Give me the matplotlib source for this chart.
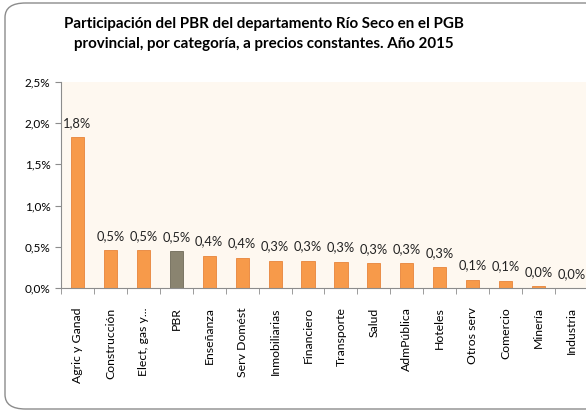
import matplotlib.pyplot as plt
from matplotlib.patches import FancyBboxPatch
import numpy as np

plt.rcParams['font.family'] = ['Lato', 'DejaVu Sans']

# data (percent)
categorias = ['Agric y Ganad', 'Construcción', 'Elect, gas y...', 'PBR', 'Enseñanza',
              'Serv Domést', 'Inmobiliarias', 'Financiero', 'Transporte', 'Salud',
              'AdmPública', 'Hoteles', 'Otros serv', 'Comercio', 'Minería', 'Industria']
valores = [1.83, 0.46, 0.46, 0.45, 0.39, 0.37, 0.33, 0.33, 0.32, 0.30,
           0.30, 0.25, 0.10, 0.09, 0.02, 0.0]
etiquetas = ['1,8%', '0,5%', '0,5%', '0,5%', '0,4%', '0,4%', '0,3%', '0,3%', '0,3%', '0,3%',
             '0,3%', '0,3%', '0,1%', '0,1%', '0,0%', '0,0%']
yticks = [0.0, 0.5, 1.0, 1.5, 2.0, 2.5]
ytick_labels = ['0,0%', '0,5%', '1,0%', '1,5%', '2,0%', '2,5%']

W, H = 586, 412
fig = plt.figure(figsize=(W / 100, H / 100), dpi=100)

# rounded chart border (goes past the right edge, like the reference)
border = FancyBboxPatch((5 / W, 3 / H), 600 / W, 406 / H,
                        boxstyle='round,pad=0,rounding_size=0.035',
                        transform=fig.transFigure, facecolor='white',
                        edgecolor='#8c8c8c', linewidth=1.0, zorder=-1)
fig.patches.append(border)

ax = fig.add_axes([61 / W, 1 - 288 / H, 527 / W, 206 / H])
ax.set_zorder(1)
ax.set_facecolor('#fef8f0')

x = np.arange(len(categorias))
colores = ['#8a8470' if c == 'PBR' else '#f79a4a' for c in categorias]
bordes = ['#6f6a58' if c == 'PBR' else '#e8843a' for c in categorias]
ax.bar(x, valores, width=0.4, color=colores, edgecolor=bordes, linewidth=0.6, zorder=2)

for xi, v, t in zip(x, valores, etiquetas):
    ax.text(xi, v + 0.1, t, ha='center', va='bottom', fontsize=9.3, color='#222222')

ax.set_xlim(-0.5, len(categorias) - 0.5)
ax.set_ylim(0, 2.5)
ax.set_yticks(yticks)
ax.set_yticklabels(ytick_labels, fontsize=8.5)

ax.set_xticks(x)
ax.set_xticklabels(categorias, rotation=90, fontsize=8.8)
ax.tick_params(axis='x', length=0, pad=14)
ax.set_xticks(np.arange(len(categorias) + 1) - 0.5, minor=True)
ax.tick_params(axis='x', which='minor', length=4, color='#8c8c8c')
ax.tick_params(axis='y', length=4, color='#8c8c8c')

for s in ['top', 'right']:
    ax.spines[s].set_visible(False)
for s in ['left', 'bottom']:
    ax.spines[s].set_color('#8c8c8c')

fig.text(264 / W, 1 - 24 / H, 'Participación del PBR del departamento Río Seco en el PGB',
         ha='center', va='center', fontsize=10.9, fontweight='bold')
fig.text(264 / W, 1 - 44 / H, 'provincial, por categoría, a precios constantes. Año 2015',
         ha='center', va='center', fontsize=10.9, fontweight='bold')

fig.savefig('out.png', dpi=100)
